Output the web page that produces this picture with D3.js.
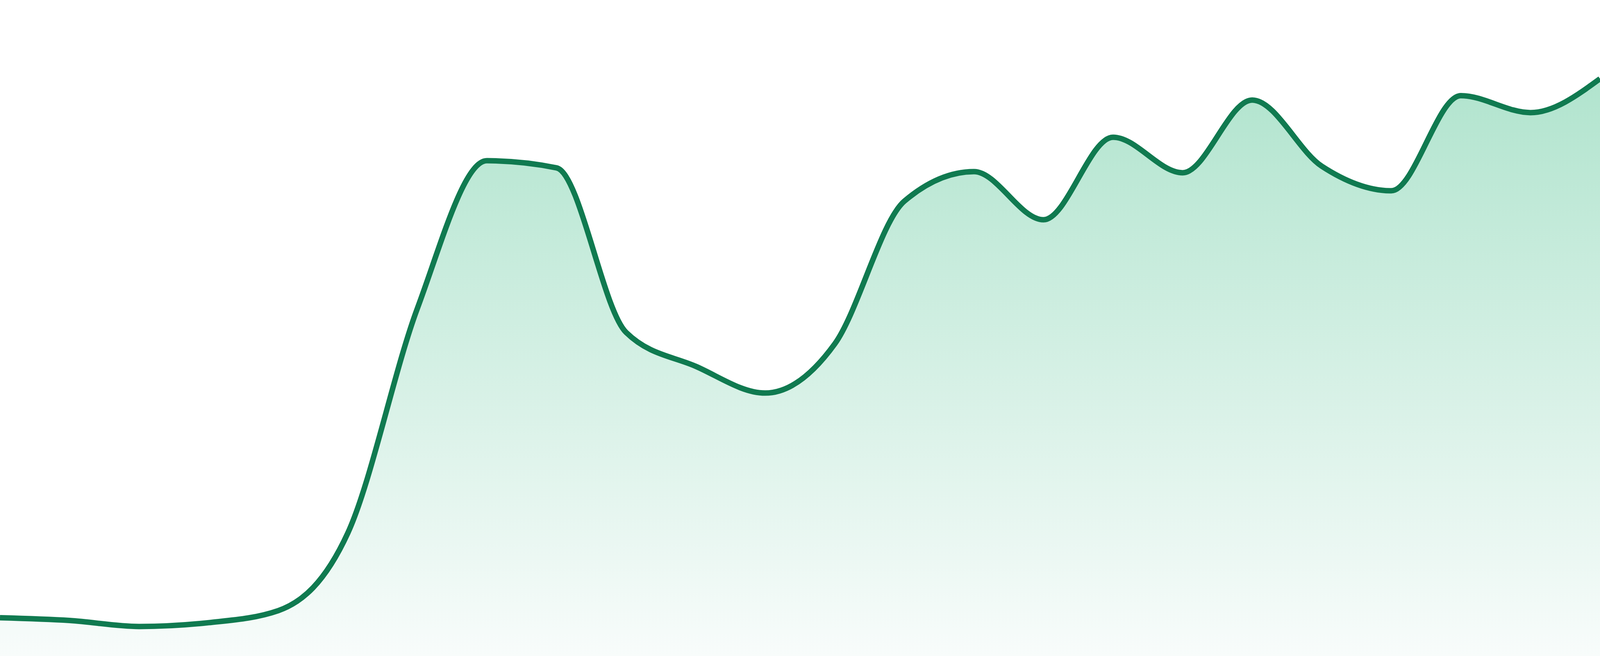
<!DOCTYPE html>
<html>
<head>
<meta charset="utf-8">
<script src="https://cdn.jsdelivr.net/npm/d3@7"></script>
<style>
  html, body { margin: 0; padding: 0; background: #ffffff; overflow: hidden; }
  svg { display: block; }
</style>
</head>
<body>
<div id="chart"></div>
<script>
// Sequential periods (the reference shows no axis labels)
const categories = ["1","2","3","4","5","6","7","8","9","10","11","12",
                    "13","14","15","16","17","18","19","20","21","22","23","24"];
// Series values
const values = [7.0, 6.5, 5.4, 6.1, 8.3, 22.5, 63.6, 90.6, 89.3, 59.2, 53.0, 48.1,
                57.1, 83.2, 88.6, 79.8, 94.9, 88.4, 101.7, 89.6, 85.1, 102.5, 99.4, 105.6];
const yDomain = [0, 120];

// Fill the browser window (the chart spans the whole page edge to edge)
const W = window.innerWidth || 4800, H = window.innerHeight || 1680;
const data = categories.map((c, i) => ({ c, v: values[i] }));

const x = d3.scalePoint().domain(categories).range([0, W]);
const y = d3.scaleLinear().domain(yDomain).range([H, 0]);

const svg = d3.select("#chart").append("svg")
  .attr("width", W).attr("height", H);

const grad = svg.append("defs").append("linearGradient")
  .attr("id", "fillGrad")
  .attr("x1", 0).attr("y1", 0).attr("x2", 0).attr("y2", 1);
grad.append("stop").attr("offset", "0%").attr("stop-color", "#b1e4ce");
grad.append("stop").attr("offset", "100%").attr("stop-color", "#f8fcfb");

const area = d3.area()
  .x(d => x(d.c)).y0(H).y1(d => y(d.v))
  .curve(d3.curveMonotoneX);
const line = d3.line()
  .x(d => x(d.c)).y(d => y(d.v))
  .curve(d3.curveMonotoneX);

svg.append("path").datum(data)
  .attr("d", area)
  .attr("fill", "url(#fillGrad)");

svg.append("path").datum(data)
  .attr("d", line)
  .attr("fill", "none")
  .attr("stroke", "#107a50")
  .attr("stroke-width", 14)
  .attr("stroke-linejoin", "round");
</script>
</body>
</html>
